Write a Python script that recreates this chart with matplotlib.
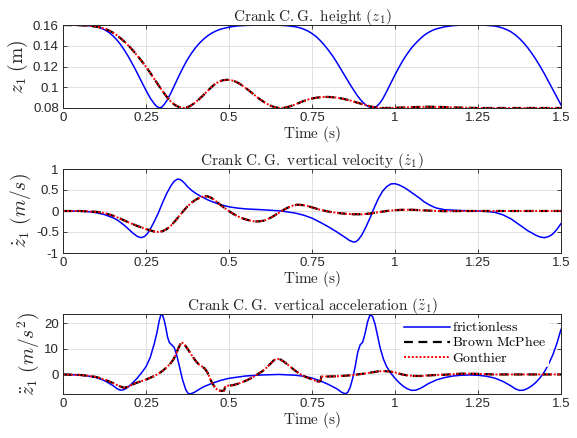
import matplotlib
matplotlib.use("Agg")
import matplotlib.pyplot as plt

plt.rcParams['mathtext.fontset'] = 'cm'
plt.rcParams['font.family'] = ['Liberation Sans', 'DejaVu Sans']

# ---------------- data: position z1 (m) ----------------
t_z_fr = [0, 0.05, 0.075, 0.1, 0.1125, 0.125, 0.1375, 0.15, 0.1625, 0.175, 0.1875, 0.2, 0.2125,
          0.225, 0.2375, 0.25, 0.2625, 0.275, 0.2825, 0.29, 0.2975, 0.305, 0.3125, 0.325, 0.3375,
          0.35, 0.3625, 0.375, 0.3875, 0.4, 0.4125, 0.425, 0.4375, 0.45, 0.4625, 0.475, 0.5,
          0.525, 0.55, 0.6, 0.65, 0.675, 0.7, 0.7125, 0.725, 0.7375, 0.75, 0.7625, 0.775, 0.7875,
          0.8, 0.8125, 0.825, 0.8375, 0.85, 0.8625, 0.875, 0.8875, 0.9, 0.9125, 0.925, 0.935,
          0.945, 0.955, 0.9625, 0.975, 0.9875, 1.0, 1.0125, 1.025, 1.0375, 1.05, 1.0625, 1.075,
          1.0875, 1.1, 1.1125, 1.125, 1.15, 1.175, 1.2, 1.25, 1.275, 1.3, 1.3125, 1.325, 1.3375,
          1.35, 1.3625, 1.375, 1.3875, 1.4, 1.4125, 1.425, 1.4375, 1.45, 1.4625, 1.475, 1.4875, 1.5]
z_fr = [0.1600, 0.1598, 0.1594, 0.1583, 0.1572, 0.1555, 0.1530, 0.1497, 0.1455, 0.1405, 0.1345,
        0.1278, 0.1205, 0.1128, 0.1048, 0.0970, 0.0897, 0.0840, 0.0815, 0.0802, 0.0808, 0.0835,
        0.0870, 0.0945, 0.1030, 0.1115, 0.1195, 0.1268, 0.1330, 0.1385, 0.1430, 0.1468, 0.1500,
        0.1525, 0.1545, 0.1560, 0.1580, 0.1591, 0.1596, 0.1600, 0.1598, 0.1593, 0.1583, 0.1574,
        0.1560, 0.1542, 0.1518, 0.1488, 0.1450, 0.1405, 0.1355, 0.1300, 0.1238, 0.1172, 0.1105,
        0.1038, 0.0975, 0.0915, 0.0865, 0.0828, 0.0806, 0.0800, 0.0815, 0.0850, 0.0885, 0.0960,
        0.1040, 0.1120, 0.1195, 0.1265, 0.1325, 0.1380, 0.1425, 0.1465, 0.1500, 0.1527, 0.1548,
        0.1563, 0.1583, 0.1594, 0.1599, 0.1600, 0.1597, 0.1590, 0.1582, 0.1570, 0.1554, 0.1533,
        0.1505, 0.1470, 0.1428, 0.1380, 0.1325, 0.1265, 0.1200, 0.1130, 0.1055, 0.0980, 0.0905,
        0.0830]

t_z_bm = [0, 0.05, 0.075, 0.1, 0.1125, 0.125, 0.1375, 0.15, 0.1625, 0.175, 0.1875, 0.2, 0.2125,
          0.225, 0.2375, 0.25, 0.2625, 0.275, 0.2875, 0.3, 0.3125, 0.325, 0.3375, 0.35, 0.36,
          0.37, 0.3825, 0.395, 0.4075, 0.42, 0.4325, 0.445, 0.4575, 0.47, 0.4825, 0.495, 0.5075,
          0.52, 0.5325, 0.545, 0.5575, 0.57, 0.5825, 0.595, 0.6075, 0.62, 0.6325, 0.645, 0.655,
          0.665, 0.6775, 0.69, 0.7025, 0.715, 0.7275, 0.74, 0.7525, 0.765, 0.7775, 0.79, 0.8025,
          0.815, 0.8275, 0.84, 0.8525, 0.865, 0.8775, 0.89, 0.9025, 0.915, 0.9275, 0.94, 0.9525,
          0.965, 0.99, 1.02, 1.05, 1.08, 1.1, 1.13, 1.16, 1.2, 1.25, 1.5]
z_bm = [0.1600, 0.1598, 0.1594, 0.1585, 0.1577, 0.1565, 0.1548, 0.1527, 0.1500, 0.1468, 0.1432,
        0.1392, 0.1348, 0.1300, 0.1250, 0.1197, 0.1140, 0.1080, 0.1020, 0.0962, 0.0908, 0.0862,
        0.0828, 0.0808, 0.0800, 0.0803, 0.0818, 0.0845, 0.0878, 0.0915, 0.0955, 0.0995, 0.1030,
        0.1055, 0.1068, 0.1072, 0.1067, 0.1054, 0.1033, 0.1005, 0.0975, 0.0943, 0.0910, 0.0880,
        0.0853, 0.0830, 0.0813, 0.0803, 0.0800, 0.0802, 0.0810, 0.0823, 0.0838, 0.0855, 0.0870,
        0.0883, 0.0893, 0.0900, 0.0905, 0.0907, 0.0906, 0.0903, 0.0898, 0.0891, 0.0882, 0.0872,
        0.0860, 0.0848, 0.0836, 0.0824, 0.0814, 0.0806, 0.0801, 0.0800, 0.0801, 0.0804, 0.0808,
        0.0811, 0.0812, 0.0811, 0.0808, 0.0803, 0.0800, 0.0800]
t_z_go = list(t_z_bm)
z_go = list(z_bm)

# ---------------- data: velocity (m/s) ----------------
t_v_fr = [0, 0.05, 0.075, 0.1, 0.125, 0.15, 0.1625, 0.175, 0.1875, 0.2, 0.2125, 0.225, 0.235,
          0.245, 0.255, 0.265, 0.275, 0.2875, 0.3, 0.3125, 0.325, 0.335, 0.345, 0.3525, 0.36,
          0.3675, 0.375, 0.3875, 0.4, 0.4125, 0.425, 0.4375, 0.45, 0.475, 0.5, 0.525, 0.55, 0.6,
          0.65, 0.675, 0.7, 0.725, 0.75, 0.775, 0.8, 0.825, 0.85, 0.8625, 0.875, 0.8825, 0.89,
          0.9, 0.9125, 0.925, 0.9375, 0.95, 0.9625, 0.975, 0.9875, 1.0, 1.0125, 1.025, 1.0375,
          1.05, 1.0625, 1.075, 1.0875, 1.1, 1.1125, 1.125, 1.15, 1.2, 1.25, 1.275, 1.3, 1.325,
          1.35, 1.375, 1.4, 1.425, 1.4375, 1.45, 1.4625, 1.475, 1.4875, 1.5]
v_fr = [0, -0.005, -0.015, -0.04, -0.085, -0.16, -0.21, -0.28, -0.36, -0.45, -0.54, -0.61,
        -0.635, -0.61, -0.53, -0.40, -0.25, -0.04, 0.20, 0.42, 0.60, 0.71, 0.76, 0.75, 0.71,
        0.65, 0.58, 0.49, 0.42, 0.36, 0.31, 0.26, 0.22, 0.15, 0.10, 0.07, 0.05, 0.03, 0.005,
        -0.02, -0.05, -0.10, -0.17, -0.27, -0.38, -0.50, -0.63, -0.70, -0.74, -0.73, -0.68,
        -0.57, -0.38, -0.16, 0.08, 0.30, 0.47, 0.58, 0.645, 0.65, 0.62, 0.57, 0.51, 0.44, 0.37,
        0.30, 0.22, 0.16, 0.11, 0.07, 0.03, 0.01, 0.0, -0.01, -0.03, -0.09, -0.19, -0.33, -0.47,
        -0.58, -0.62, -0.635, -0.61, -0.55, -0.44, -0.30]

t_v_bm = [0, 0.05, 0.075, 0.1, 0.125, 0.15, 0.175, 0.2, 0.225, 0.25, 0.2625, 0.275, 0.2875,
          0.3, 0.3125, 0.325, 0.3375, 0.35, 0.3625, 0.375, 0.3875, 0.4, 0.4125, 0.425, 0.435,
          0.445, 0.455, 0.4675, 0.48, 0.4925, 0.505, 0.5175, 0.53, 0.5425, 0.555, 0.5675, 0.58,
          0.5925, 0.605, 0.6175, 0.63, 0.6425, 0.655, 0.6675, 0.68, 0.6925, 0.705, 0.7175, 0.73,
          0.7425, 0.755, 0.7675, 0.78, 0.8, 0.825, 0.85, 0.875, 0.9, 0.925, 0.95, 0.975, 1.0,
          1.025, 1.05, 1.075, 1.1, 1.15, 1.2, 1.5]
v_bm = [0, 0, -0.008, -0.02, -0.05, -0.11, -0.19, -0.28, -0.36, -0.43, -0.46, -0.49, -0.50,
        -0.48, -0.43, -0.35, -0.24, -0.12, 0.0, 0.11, 0.20, 0.27, 0.32, 0.35, 0.35, 0.32, 0.27,
        0.19, 0.11, 0.04, -0.03, -0.09, -0.14, -0.18, -0.21, -0.235, -0.25, -0.245, -0.23,
        -0.19, -0.14, -0.08, -0.02, 0.04, 0.09, 0.13, 0.15, 0.145, 0.13, 0.105, 0.075, 0.045,
        0.02, -0.015, -0.045, -0.065, -0.077, -0.078, -0.06, -0.03, 0.0, 0.02, 0.03, 0.03, 0.02,
        0.01, -0.005, 0.0, 0.0]
t_v_go = list(t_v_bm)
v_go = list(v_bm)

# ---------------- data: acceleration (m/s^2) ----------------
t_a_fr = [0, 0.05, 0.075, 0.1, 0.125, 0.15, 0.1625, 0.17, 0.1775, 0.185, 0.195, 0.205, 0.215,
          0.225, 0.2375, 0.25, 0.2625, 0.275, 0.2825, 0.29, 0.295, 0.3, 0.305, 0.31, 0.315, 0.32,
          0.3275, 0.335, 0.3425, 0.35, 0.36, 0.37, 0.3775, 0.385, 0.395, 0.41, 0.425, 0.45,
          0.475, 0.5, 0.55, 0.6, 0.65, 0.7, 0.725, 0.75, 0.775, 0.8, 0.825, 0.84, 0.85, 0.8575,
          0.865, 0.8725, 0.88, 0.8875, 0.895, 0.9025, 0.91, 0.9175, 0.925, 0.9325, 0.94, 0.9475,
          0.955, 0.965, 0.975, 0.9875, 1.0, 1.0125, 1.025, 1.0375, 1.05, 1.0625, 1.075, 1.0875,
          1.1, 1.125, 1.15, 1.175, 1.2, 1.225, 1.25, 1.275, 1.3, 1.325, 1.35, 1.3625, 1.375,
          1.3875, 1.4, 1.4125, 1.425, 1.4375, 1.45, 1.4625, 1.475, 1.4875, 1.5]
a_fr = [0, -0.2, -0.6, -1.2, -2.4, -4.3, -5.5, -6.0, -6.1, -5.8, -5.0, -3.9, -2.6, -1.2, 0.8,
        3.0, 6.5, 12, 16, 21, 23.3, 23, 21, 18, 14.5, 12.5, 11.5, 10.5, 7.5, 3.5, -2, -6, -7.5,
        -7.5, -7, -5.8, -4.7, -3.4, -2.3, -1.5, -0.6, -0.2, 0.0, -0.3, -0.7, -1.4, -2.5, -3.9,
        -5.6, -7, -7.5, -7, -5, -1.5, 3, 8.5, 11.5, 12.5, 16, 20.5, 23.3, 22.5, 19.5, 15, 10.5,
        6, 3, 0.5, -1.5, -3.2, -4.6, -5.6, -6.2, -6.1, -5.5, -4.6, -3.6, -2.1, -1.2, -0.6, -0.3,
        -0.2, -0.3, -0.7, -1.4, -2.7, -4.5, -5.6, -6.2, -6.1, -5.4, -4.4, -3, -1.2, 1, 4, 7.5,
        12, 17.5]

t_a_bm = [0, 0.05, 0.075, 0.1, 0.125, 0.15, 0.1625, 0.175, 0.185, 0.195, 0.205, 0.215, 0.225,
          0.25, 0.275, 0.29, 0.3, 0.3125, 0.325, 0.3325, 0.34, 0.3475, 0.355, 0.36, 0.365, 0.375,
          0.3875, 0.4, 0.41, 0.42, 0.4275, 0.435, 0.4425, 0.45, 0.4575, 0.465, 0.475, 0.485,
          0.488, 0.49, 0.5, 0.51, 0.525, 0.54, 0.555, 0.57, 0.585, 0.6, 0.6125, 0.625, 0.635,
          0.645, 0.655, 0.665, 0.675, 0.6875, 0.7, 0.7125, 0.725, 0.7375, 0.75, 0.76, 0.77,
          0.776, 0.778, 0.79, 0.8, 0.825, 0.85, 0.875, 0.9, 0.925, 0.95, 0.965, 0.98, 1.0,
          1.0125, 1.025, 1.04, 1.06, 1.08, 1.1, 1.125, 1.15, 1.175, 1.2, 1.225, 1.25, 1.3, 1.5]
a_bm = [0, -0.2, -0.5, -1, -2, -3.3, -4.1, -4.8, -5.2, -4.8, -4.2, -3.6, -3.1, -2.0, -0.6, 0.5,
        1.4, 2.8, 4.5, 5.8, 7.8, 10.2, 12.2, 12.3, 11.8, 10, 7.5, 5.2, 3.8, 3, 2.2, 0.8, -1.5,
        -3.5, -5, -6, -6.4, -6.3, -5, -4.4, -4.3, -4.2, -3.7, -3, -2.2, -1.2, 0, 1.2, 2.6, 4.2,
        5.5, 6.1, 5.8, 5.0, 4.0, 2.7, 1.4, 0.3, -0.6, -1.3, -1.9, -2.4, -2.8, -2.6, -0.8, -0.8,
        -0.8, -0.7, -0.5, -0.2, 0.2, 0.7, 1.2, 1.3, 1.2, 0.8, 0.3, -0.1, -0.4, -0.6, -0.6, -0.4,
        -0.2, -0.1, 0.1, 0.3, 0.3, 0.2, 0.0, 0.0]
t_a_go = list(t_a_bm)
a_go = list(a_bm)

# ---------------- figure ----------------
W, H = 577, 438
fig = plt.figure(figsize=(W / 100, H / 100), dpi=100)

def add_ax(top, bottom, left=63, right=561):
    return fig.add_axes([left / W, 1 - bottom / H, (right - left) / W, (bottom - top) / H])

ax1 = add_ax(25, 108)
ax2 = add_ax(169, 253)
ax3 = add_ax(314, 394)

xt = [0, 0.25, 0.5, 0.75, 1, 1.25, 1.5]
xtl = ['0', '0.25', '0.5', '0.75', '1', '1.25', '1.5']
spine_c = '#262626'

def style(ax, title, ylabel, yt, ytl, ylim):
    ax.set_xlim(0, 1.5)
    ax.set_ylim(*ylim)
    ax.set_xticks(xt)
    ax.set_xticklabels(xtl)
    ax.set_yticks(yt)
    ax.set_yticklabels(ytl)
    ax.grid(True, color='#dcdcdc', lw=0.6)
    ax.set_axisbelow(True)
    ax.tick_params(direction='in', length=3, width=0.6, top=True, right=True,
                   labelsize=9.5, colors=spine_c, pad=3)
    for s in ax.spines.values():
        s.set_color(spine_c)
        s.set_linewidth(0.7)
    ax.set_title(title, fontsize=11, color='#262626', pad=3)
    ax.set_xlabel(r'$\mathrm{Time\ (s)}$', fontsize=11, color='#262626', labelpad=0)
    ax.set_ylabel(ylabel, fontsize=14, color='#262626', labelpad=2)

def draw(ax, tf, yf, tb, yb, tg, yg):
    ax.plot(tf, yf, color='#0000ff', lw=1.1, label=r'$\mathrm{frictionless}$')
    ax.plot(tb, yb, color='black', lw=1.6, ls=(0, (4, 2.5)), label=r'$\mathrm{Brown\ McPhee}$')
    ax.plot(tg, yg, color='red', lw=1.4, ls=(0, (1, 1)), label=r'$\mathrm{Gonthier}$')

draw(ax1, t_z_fr, z_fr, t_z_bm, z_bm, t_z_go, z_go)
style(ax1, r'$\mathrm{Crank\ C.G.\ height}\ (z_1)$', r'$z_1\ \mathrm{(m)}$',
      [0.08, 0.10, 0.12, 0.14, 0.16], ['0.08', '0.1', '0.12', '0.14', '0.16'], (0.08, 0.16))

draw(ax2, t_v_fr, v_fr, t_v_bm, v_bm, t_v_go, v_go)
style(ax2, r'$\mathrm{Crank\ C.G.\ vertical\ velocity}\ (\dot{z}_1)$', r'$\dot{z}_1\ (m/s)$',
      [-1, -0.5, 0, 0.5, 1], ['-1', '-0.5', '0', '0.5', '1'], (-1, 1))

draw(ax3, t_a_fr, a_fr, t_a_bm, a_bm, t_a_go, a_go)
style(ax3, r'$\mathrm{Crank\ C.G.\ vertical\ acceleration}\ (\ddot{z}_1)$',
      r'$\ddot{z}_1\ (m/s^2)$', [0, 10, 20], ['0', '10', '20'], (-7.6, 23.5))

leg = ax3.legend(loc='upper right', bbox_to_anchor=(0.976, 0.955), frameon=True, fontsize=10,
                 handlelength=3.3, handletextpad=0.2, borderpad=0.2, labelspacing=0.08,
                 borderaxespad=0.0)
leg.get_frame().set_edgecolor('none')
leg.get_frame().set_facecolor('white')
leg.get_frame().set_alpha(1)

fig.savefig('out.png', dpi=100)
